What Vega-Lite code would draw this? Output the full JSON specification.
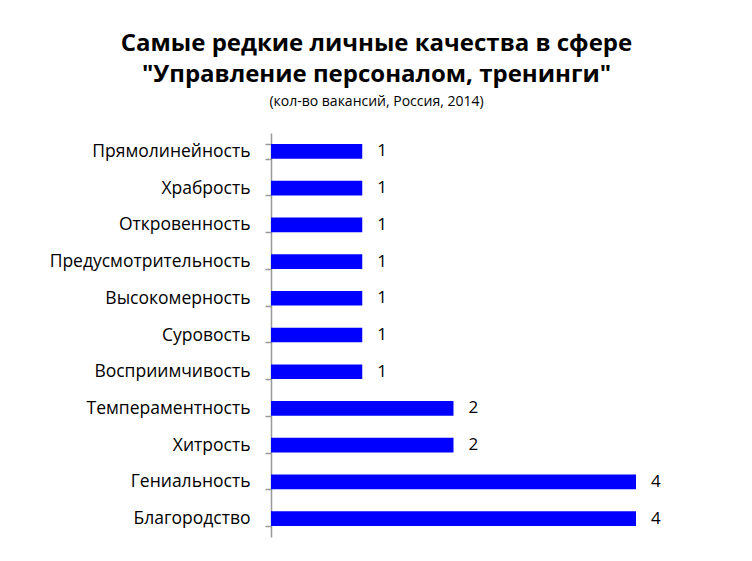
{
  "$schema": "https://vega.github.io/schema/vega-lite/v6.json",
  "autosize": "none",
  "padding": {"left": 271, "top": 133, "right": 116, "bottom": 24},
  "width": 365,
  "height": 404,
  "title": {
    "text": ["Самые редкие личные качества в сфере", "\"Управление персоналом, тренинги\""],
    "subtitle": "(кол-во вакансий, Россия, 2014)",
    "font": "Open Sans",
    "fontSize": 24,
    "fontWeight": "bold",
    "lineHeight": 31,
    "subtitleFont": "Open Sans",
    "subtitleFontSize": 14,
    "subtitlePadding": 8,
    "subtitleColor": "black",
    "color": "black",
    "anchor": "middle",
    "dx": -77,
    "offset": 15
  },
  "data": {
    "values": [
      {"quality": "Прямолинейность", "count": 1},
      {"quality": "Храбрость", "count": 1},
      {"quality": "Откровенность", "count": 1},
      {"quality": "Предусмотрительность", "count": 1},
      {"quality": "Высокомерность", "count": 1},
      {"quality": "Суровость", "count": 1},
      {"quality": "Восприимчивость", "count": 1},
      {"quality": "Темпераментность", "count": 2},
      {"quality": "Хитрость", "count": 2},
      {"quality": "Гениальность", "count": 4},
      {"quality": "Благородство", "count": 4}
    ]
  },
  "encoding": {
    "y": {
      "field": "quality",
      "type": "nominal",
      "sort": null,
      "scale": {"paddingInner": 0.6, "paddingOuter": 0.3},
      "axis": {
        "title": null,
        "tickBand": "extent",
        "tickSize": 6,
        "tickColor": "#999999",
        "domainColor": "#999999",
        "tickWidth": 1.5,
        "domainWidth": 1.5,
        "labelFont": "Open Sans",
        "labelFontSize": 17.5,
        "labelColor": "black",
        "labelPadding": 15,
        "labelLimit": 300
      }
    },
    "x": {
      "field": "count",
      "type": "quantitative",
      "scale": {"domain": [0, 4]},
      "axis": null
    }
  },
  "layer": [
    {"mark": {"type": "bar", "color": "#0000FF"}},
    {
      "mark": {"type": "text", "align": "left", "dx": 15, "font": "Open Sans", "fontSize": 17, "color": "black"},
      "encoding": {"text": {"field": "count", "type": "quantitative"}}
    }
  ],
  "config": {"view": {"stroke": null}}
}
